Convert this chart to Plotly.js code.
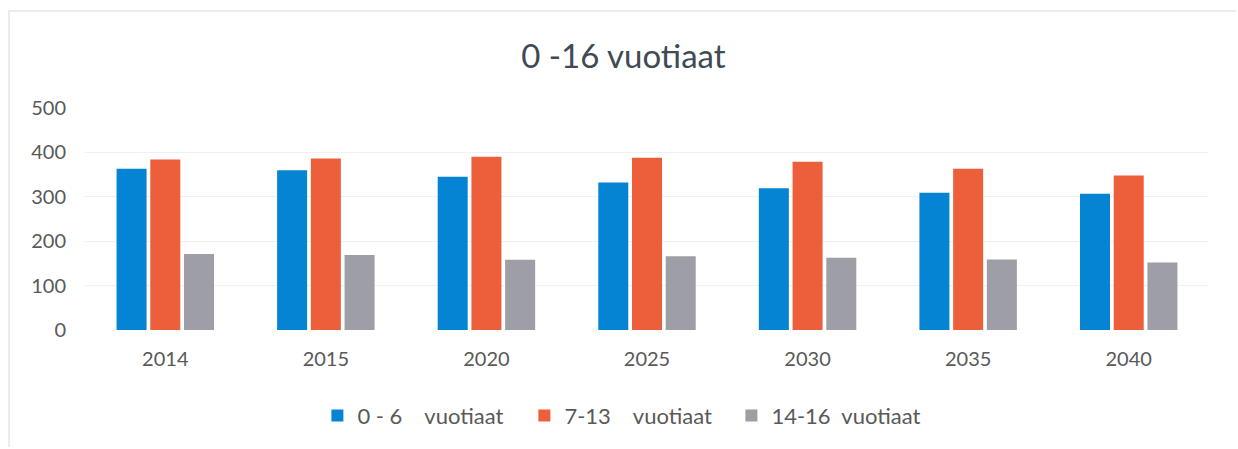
<!DOCTYPE html>
<html>
<head>
<meta charset="utf-8">
<script src="https://cdn.plot.ly/plotly-3.0.1.min.js"></script>
<style>
html,body{margin:0;padding:0;background:#fff;}
#frame{position:absolute;left:8px;top:10px;width:1228px;height:437px;border-left:2px solid #ececec;border-top:2px solid #ececec;box-sizing:border-box;}
#chart{position:absolute;left:0;top:0;width:1228px;height:437px;}
</style>
</head>
<body>
<div id="frame"><div id="chart"></div></div>
<script>
const years = ['2014','2015','2020','2025','2030','2035','2040'];
const age0to6 = [363, 360, 345, 332, 319, 309, 307];
const age7to13 = [384, 386, 390, 388, 379, 363, 348];
const age14to16 = [171, 169, 158, 166, 163, 159, 152];
const seriesNames = ['0 - 6\u00a0\u00a0\u00a0\u00a0vuotiaat', '7-13\u00a0\u00a0\u00a0\u00a0vuotiaat', '14-16\u00a0\u00a0vuotiaat'];
const colors = ['#0484d2', '#ec5f3a', '#9e9ea6'];

const allSeries = [age0to6, age7to13, age14to16];
const traces = allSeries.map((vals, i) => ({
  type: 'bar',
  x: years,
  y: vals,
  name: seriesNames[i],
  marker: {color: colors[i]},
  hoverinfo: 'x+y'
}));

const layout = {
  width: 1226,
  height: 435,
  margin: {l: 75, r: 27, t: 96, b: 116},
  paper_bgcolor: 'rgba(0,0,0,0)',
  plot_bgcolor: '#fff',
  font: {family: 'Lato, "Open Sans", sans-serif', color: '#595959', size: 20},
  title: {
    text: '0 -16 vuotiaat',
    font: {family: 'Lato, "Open Sans", sans-serif', size: 33, color: '#404a52'},
    x: 0.479, xanchor: 'center', xref: 'paper',
    y: 0.897, yanchor: 'middle', yref: 'container'
  },
  barmode: 'group',
  bargap: 0.37,
  bargroupgap: 0.11,
  xaxis: {
    type: 'category',
    showgrid: false,
    zeroline: false,
    showline: false,
    ticks: 'outside', ticklen: 11, tickcolor: 'rgba(0,0,0,0)',
    tickfont: {size: 20, color: '#595959'}
  },
  yaxis: {
    range: [0, 500],
    dtick: 100,
    showgrid: true,
    gridcolor: '#f0f0f0',
    gridwidth: 1,
    zeroline: false,
    showline: false,
    ticks: 'outside', ticklen: 14, tickcolor: 'rgba(0,0,0,0)',
    tickfont: {size: 20, color: '#595959'}
  },
  legend: {
    orientation: 'h',
    x: 0.483, xanchor: 'center',
    y: -0.38, yanchor: 'middle',
    font: {size: 22, color: '#595959'},
    entrywidth: 162,
    entrywidthmode: 'pixels',
    traceorder: 'normal'
  },
  showlegend: true
};

Plotly.newPlot('chart', traces, layout, {displayModeBar: false});
</script>
</body>
</html>
